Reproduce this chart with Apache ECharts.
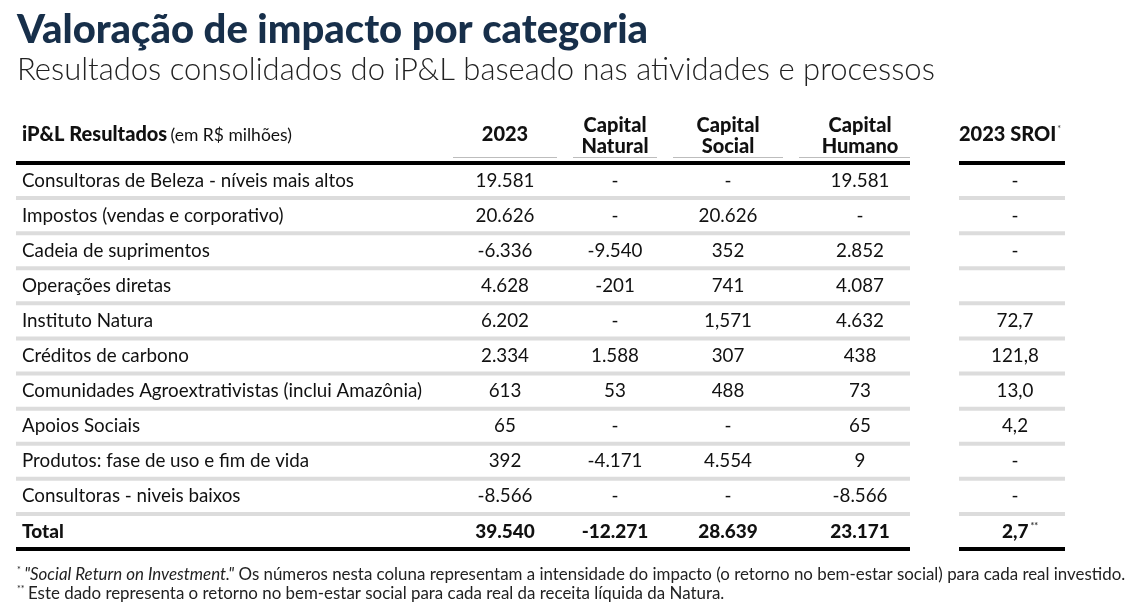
<!DOCTYPE html>
<html>
<head>
<meta charset="utf-8">
<script src="https://cdn.jsdelivr.net/npm/echarts@6/dist/echarts.min.js"></script>
<style>
  html, body { margin: 0; padding: 0; background: #fff; }
  #main { width: 1145px; height: 616px; }
</style>
</head>
<body>
<div id="main"></div>
<script>
// linhas da tabela
var rowLabels = [
  'Consultoras de Beleza - níveis mais altos',
  'Impostos (vendas e corporativo)',
  'Cadeia de suprimentos',
  'Operações diretas',
  'Instituto Natura',
  'Créditos de carbono',
  'Comunidades Agroextrativistas (inclui Amazônia)',
  'Apoios Sociais',
  'Produtos: fase de uso e fim de vida',
  'Consultoras - niveis baixos',
  'Total'
];
var col2023    = ['19.581', '20.626', '-6.336', '4.628', '6.202', '2.334', '613', '65', '392', '-8.566', '39.540'];
var colNatural = ['-', '-', '-9.540', '-201', '-', '1.588', '53', '-', '-4.171', '-', '-12.271'];
var colSocial  = ['-', '20.626', '352', '741', '1,571', '307', '488', '-', '4.554', '-', '28.639'];
var colHumano  = ['19.581', '-', '2.852', '4.087', '4.632', '438', '73', '65', '9', '-8.566', '23.171'];
var colSroi    = ['-', '-', '-', '', '72,7', '121,8', '13,0', '4,2', '-', '-', '2,7'];

var columns = [rowLabels, col2023, colNatural, colSocial, colHumano, colSroi];

// posicoes (layout)
var colX = [22, 505, 615, 728, 860, 1015];
var mainSpan = [16, 910];
var sroiSpan = [959, 1065];
var FONT = 'Lato, "Open Sans", sans-serif';
var lastRow = rowLabels.length - 1;

var cells = [];
for (var r = 0; r < rowLabels.length; r++) {
  for (var c = 0; c < columns.length; c++) {
    cells.push([c, r]);
  }
}
var rules = [];
for (var i = 0; i < rowLabels.length; i++) rules.push([0, i]);

var myChart = echarts.init(document.getElementById('main'));

function renderCell(params, api) {
  var c = api.value(0), r = api.value(1);
  var txt = columns[c][r];
  var pt = api.coord([colX[c], r]);
  var bold = r === lastRow;
  var style = {
    text: txt,
    font: (bold ? '900 19px ' : '18.8px ') + FONT,
    fill: '#111',
    align: c === 0 ? 'left' : 'center',
    verticalAlign: 'middle'
  };
  if (c === 5 && r === lastRow) {
    style.text = '{b|' + txt + '}{s|**}';
    style.rich = {
      b: { font: '900 19px ' + FONT, fill: '#111' },
      s: { font: 'bold 9px ' + FONT, fill: '#333', verticalAlign: 'top', padding: [0, 0, 8, 2] }
    };
    pt = [pt[0] + 5, pt[1]];
  }
  return { type: 'text', x: pt[0], y: pt[1], style: style };
}

function renderRule(params, api) {
  var r = api.value(1);
  var pt = api.coord([0, r]);
  var band = api.size([0, 1])[1];
  var children = [];
  var yBottom = pt[1] + band / 2;
  var isLast = r === lastRow;
  [mainSpan, sroiSpan].forEach(function (span) {
    var x0 = api.coord([span[0], r])[0];
    var x1 = api.coord([span[1], r])[0];
    children.push({
      type: 'rect',
      shape: { x: x0, y: yBottom - 2, width: x1 - x0, height: 4 },
      style: { fill: isLast ? '#000' : '#dcdcdc' }
    });
    if (r === 0) {
      children.push({
        type: 'rect',
        shape: { x: x0, y: pt[1] - band / 2 - 2, width: x1 - x0, height: 4 },
        style: { fill: '#000' }
      });
    }
  });
  return { type: 'group', children: children };
}

var headerY = 135;
var headFont = '900 20px ' + FONT;
var underlines = [[453, 557], [573, 657], [673, 783], [799, 910]];
var graphics = [
  { type: 'text', left: 17, top: 10,
    style: { text: 'Valoração de impacto por categoria', font: '900 40px ' + FONT, fill: '#172f4a' } },
  { type: 'text', left: 17, top: 54,
    style: { text: 'Resultados consolidados do iP&L baseado nas atividades e processos', font: '300 31px ' + FONT, fill: '#222' } },
  { type: 'text', x: 22, y: headerY,
    style: { text: '{b|iP&L Resultados} {n|(em R$ milhões)}', verticalAlign: 'middle',
      rich: { b: { font: '900 20px ' + FONT, fill: '#111' }, n: { font: '17.5px ' + FONT, fill: '#111' } } } },
  { type: 'text', x: 505, y: headerY,
    style: { text: '2023', font: headFont, fill: '#111', align: 'center', verticalAlign: 'middle' } },
  { type: 'text', x: 615, y: 136,
    style: { text: 'Capital\nNatural', font: headFont, lineHeight: 21, fill: '#111', align: 'center', verticalAlign: 'middle' } },
  { type: 'text', x: 728, y: 136,
    style: { text: 'Capital\nSocial', font: headFont, lineHeight: 21, fill: '#111', align: 'center', verticalAlign: 'middle' } },
  { type: 'text', x: 860, y: 136,
    style: { text: 'Capital\nHumano', font: headFont, lineHeight: 21, fill: '#111', align: 'center', verticalAlign: 'middle' } },
  { type: 'text', x: 1010, y: headerY,
    style: { text: '{b|2023 SROI}{s|*}', align: 'center', verticalAlign: 'middle',
      rich: { b: { font: headFont, fill: '#111' }, s: { font: '9px ' + FONT, fill: '#333', verticalAlign: 'top', padding: [0, 0, 9, 1] } } } },
  { type: 'text', left: 17, top: 566,
    style: { text: '{s|*} {i|"Social Return on Investment."}{n| Os números nesta coluna representam a intensidade do impacto (o retorno no bem-estar social) para cada real investido.}',
      rich: { s: { font: '9px ' + FONT, fill: '#222', verticalAlign: 'top' }, i: { font: 'italic 16.9px ' + FONT, fill: '#222' }, n: { font: '16.9px ' + FONT, fill: '#222' } } } },
  { type: 'text', left: 17, top: 585,
    style: { text: '{s|**} {n|Este dado representa o retorno no bem-estar social para cada real da receita líquida da Natura.}',
      rich: { s: { font: '9px ' + FONT, fill: '#222', verticalAlign: 'top' }, n: { font: '16.9px ' + FONT, fill: '#222' } } } }
];
underlines.forEach(function (u) {
  graphics.push({ type: 'rect', shape: { x: u[0], y: 157, width: u[1] - u[0], height: 1 }, style: { fill: '#bdbdbd' } });
});

var option = {
  backgroundColor: '#fff',
  animation: false,
  grid: { left: 0, right: 0, top: 163, height: 386 },
  xAxis: { type: 'value', min: 0, max: 1145, show: false },
  yAxis: { type: 'category', data: rowLabels, inverse: true, show: false },
  graphic: graphics,
  series: [
    { name: 'linhas', type: 'custom', renderItem: renderRule, data: rules, z: 1, silent: true },
    { name: 'celulas', type: 'custom', renderItem: renderCell, data: cells, z: 2, silent: true }
  ]
};
myChart.setOption(option);
</script>
</body>
</html>
